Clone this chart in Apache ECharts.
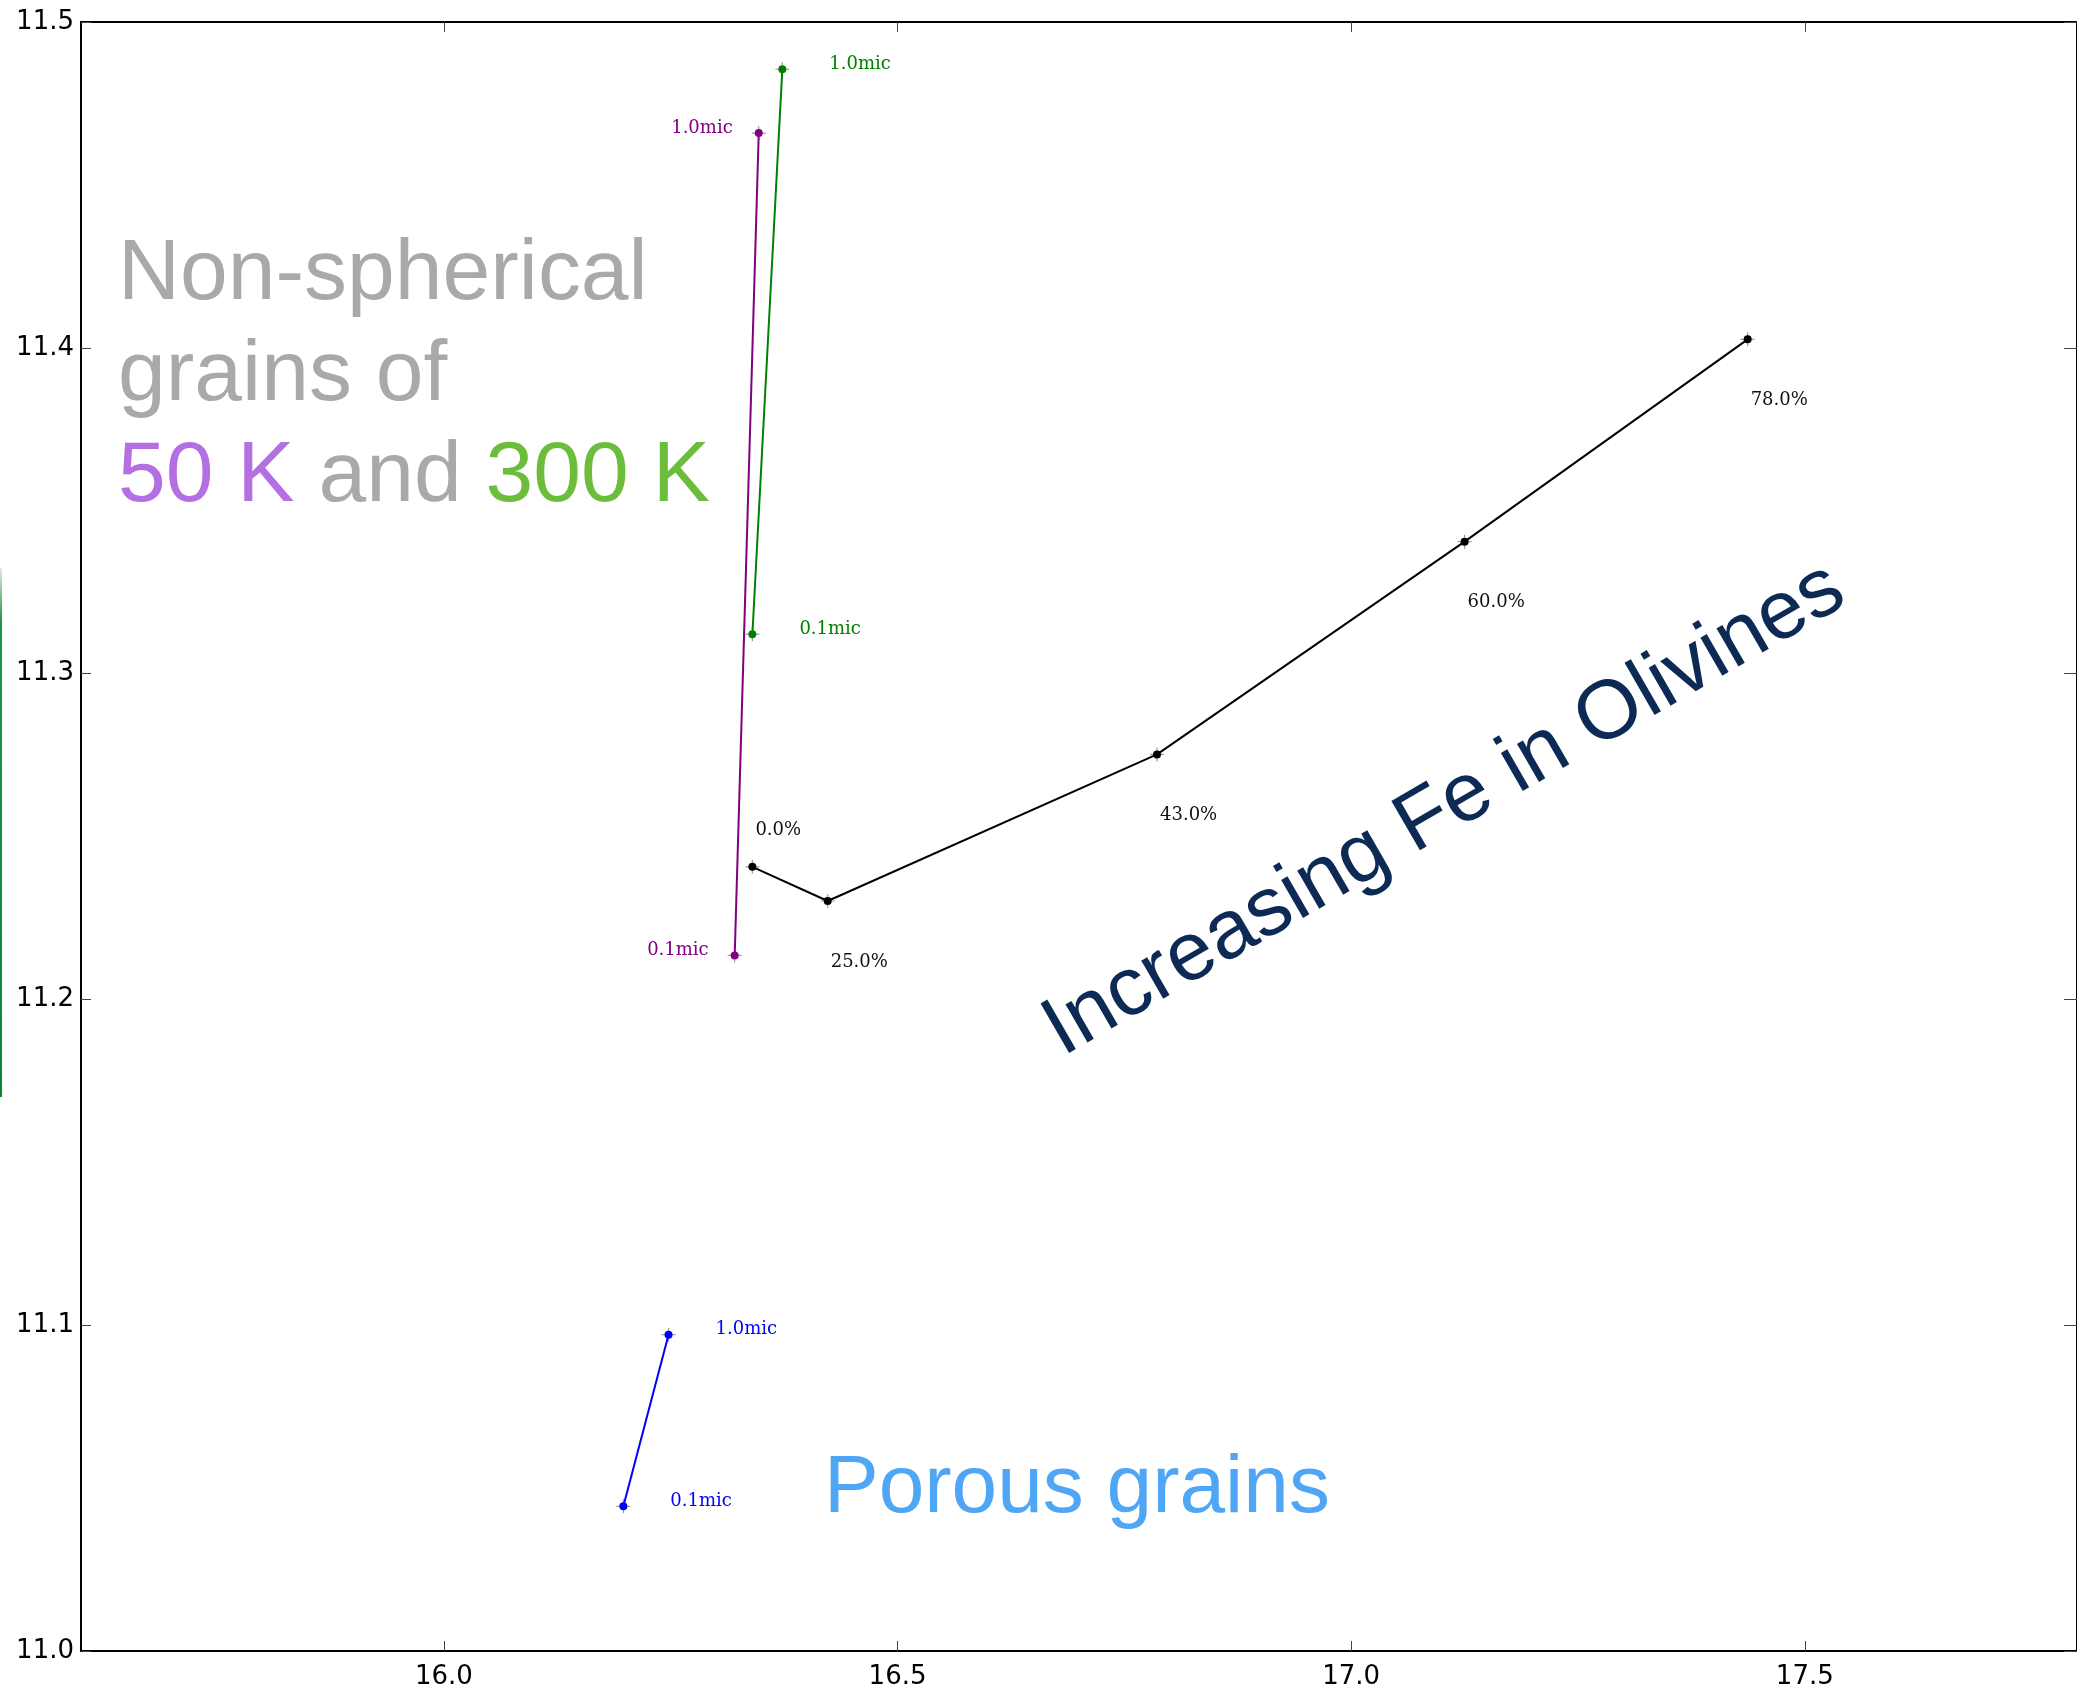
<!DOCTYPE html>
<html>
<head>
<meta charset="utf-8">
<script src="https://cdn.jsdelivr.net/npm/echarts@6/dist/echarts.min.js"></script>
<style>
  html, body { margin: 0; padding: 0; background: #fff; }
  #chart { width: 2077px; height: 1690px; }
</style>
</head>
<body>
<div id="chart"></div>
<script>
// Olivine feature positions: x = peak near 16 micron, y = peak near 11 micron

// Iron fraction sequence
const feLabels = ['0.0%', '25.0%', '43.0%', '60.0%', '78.0%'];
const feX = [16.340, 16.423, 16.786, 17.125, 17.437];
const feY = [11.2407, 11.2302, 11.2752, 11.3405, 11.4026];

// Grain sizes
const sizeLabels = ['0.1mic', '1.0mic'];

// Non-spherical grains, 300 K
const warmX = [16.340, 16.373];
const warmY = [11.3121, 11.4855];

// Non-spherical grains, 50 K
const coldX = [16.3205, 16.347];
const coldY = [11.2135, 11.4659];

// Porous grains
const porousX = [16.1978, 16.2476];
const porousY = [11.0444, 11.0971];

// Axis ticks
const xTicks = [16.0, 16.5, 17.0, 17.5];
const yTicks = [11.0, 11.1, 11.2, 11.3, 11.4, 11.5];

const plusPath = 'path://M0,6.4H14V7.6H0Z M6.4,0H7.6V14H6.4Z';

function pairs(xs, ys, labels, labelCfg) {
  return xs.map((x, i) => ({
    value: [x, ys[i]],
    label: Object.assign({ show: true, formatter: labels[i] }, labelCfg(i))
  }));
}

function lineSeries(name, color, data) {
  return {
    name, type: 'line', data, z: 3,
    symbol: 'circle', symbolSize: 8,
    lineStyle: { color, width: 2 },
    itemStyle: { color },
    label: { fontFamily: 'DejaVu Serif', fontSize: 18, color },
    emphasis: { disabled: true },
    animation: false
  };
}

function plusSeries(xs, ys) {
  return {
    type: 'scatter', z: 2,
    data: xs.map((x, i) => [x, ys[i]]),
    symbol: plusPath, symbolSize: 14,
    itemStyle: { color: 'rgba(90,90,90,0.75)' },
    emphasis: { disabled: true },
    animation: false
  };
}

const chart = echarts.init(document.getElementById('chart'), null, { renderer: 'canvas' });

const tickFont = { fontFamily: 'DejaVu Sans', fontSize: 26, color: '#000' };

const headFont = '85px "Liberation Sans", Arial, sans-serif';
const bigFont = '83px "Liberation Sans", Arial, sans-serif';
const porousFont = '82px "Liberation Sans", Arial, sans-serif';
const headScale = 1.01;

chart.setOption({
  backgroundColor: '#fff',
  animation: false,
  grid: {
    left: 81, top: 22, width: 2001, height: 1633,
    show: true, borderColor: '#000', borderWidth: 2, backgroundColor: 'transparent'
  },
  xAxis: [
    {
      type: 'value', min: 15.6, max: 17.8, position: 'bottom',
      axisLine: { show: false },
      splitLine: { show: false },
      axisTick: { inside: true, length: 10, customValues: xTicks, lineStyle: { color: '#444', width: 1 } },
      axisLabel: Object.assign({ customValues: xTicks, margin: 13, formatter: v => v.toFixed(1) }, tickFont)
    },
    {
      type: 'value', min: 15.6, max: 17.8, position: 'top',
      axisLine: { show: false },
      splitLine: { show: false },
      axisTick: { inside: true, length: 10, customValues: xTicks, lineStyle: { color: '#444', width: 1 } },
      axisLabel: { show: false }
    }
  ],
  yAxis: [
    {
      type: 'value', min: 11.0, max: 11.5, interval: 0.1, position: 'left',
      axisLine: { show: false },
      splitLine: { show: false },
      axisTick: { inside: true, length: 10, lineStyle: { color: '#444', width: 1 } },
      axisLabel: Object.assign({ margin: 7, formatter: v => v.toFixed(1), customValues: yTicks }, tickFont)
    },
    {
      type: 'value', min: 11.0, max: 11.5, interval: 0.1, position: 'right',
      axisLine: { show: false },
      splitLine: { show: false },
      axisTick: { inside: true, length: 13, lineStyle: { color: '#444', width: 1 } },
      axisLabel: { show: false }
    }
  ],
  series: [
    plusSeries(feX, feY),
    plusSeries(warmX, warmY),
    plusSeries(coldX, coldY),
    plusSeries(porousX, porousY),
    lineSeries('Fe', '#000000',
      pairs(feX, feY, feLabels, i => ({
        position: 'right', distance: 0, offset: [-1, i === 0 ? -36 : 61], color: '#111'
      }))),
    lineSeries('300 K', '#008000',
      pairs(warmX, warmY, sizeLabels, () => ({ position: 'right', distance: 43, offset: [0, -5] }))),
    lineSeries('50 K', '#800080',
      pairs(coldX, coldY, sizeLabels, () => ({ position: 'left', distance: 22, offset: [0, -5] }))),
    lineSeries('Porous', '#0000ff',
      pairs(porousX, porousY, sizeLabels, () => ({ position: 'right', distance: 43, offset: [0, -5] })))
  ],
  graphic: [
    {
      type: 'rect', left: 0, top: 568, silent: true,
      shape: { width: 2, height: 529 },
      style: {
        fill: new echarts.graphic.LinearGradient(0, 0, 0, 1, [
          { offset: 0, color: 'rgba(20,140,60,0.15)' },
          { offset: 0.1, color: 'rgba(10,135,55,0.9)' },
          { offset: 1, color: 'rgba(10,135,55,1)' }
        ])
      }
    },
    {
      type: 'text', x: 118, y: 276, scaleX: headScale, silent: true,
      style: { text: 'Non-spherical', font: headFont, fill: '#a8aaa9', align: 'left', verticalAlign: 'middle' }
    },
    {
      type: 'text', x: 118, y: 377, scaleX: headScale, silent: true,
      style: { text: 'grains of', font: headFont, fill: '#a8aaa9', align: 'left', verticalAlign: 'middle' }
    },
    {
      type: 'text', x: 118, y: 478, scaleX: headScale, silent: true,
      style: {
        text: '{p|50 K} {g|and} {gr|300 K}',
        font: headFont, align: 'left', verticalAlign: 'middle',
        rich: {
          p: { font: headFont, fill: '#b46fe2' },
          g: { font: headFont, fill: '#a8aaa9' },
          gr: { font: headFont, fill: '#6dbd3c' }
        }
      }
    },
    {
      type: 'text', x: 1051, y: 1037, rotation: 30 * Math.PI / 180, silent: true,
      style: { text: 'Increasing Fe in Olivines', font: bigFont, fill: '#0c2a54', align: 'left', verticalAlign: 'middle' }
    },
    {
      type: 'text', x: 824, y: 1489, silent: true,
      style: { text: 'Porous grains', font: porousFont, fill: '#4ea6f4', align: 'left', verticalAlign: 'middle' }
    }
  ]
});
</script>
</body>
</html>
